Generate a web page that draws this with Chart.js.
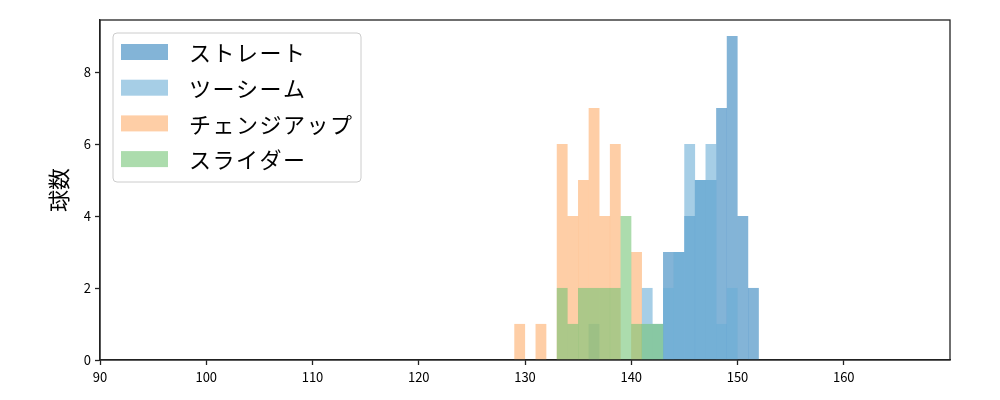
<!DOCTYPE html>
<html>
<head>
<meta charset="utf-8">
<script src="https://cdn.jsdelivr.net/npm/chart.js@4/dist/chart.umd.min.js"></script>
<style>
  body { margin: 0; background: #fff; }
</style>
</head>
<body>
<canvas id="grafico" width="1000" height="400"></canvas>
<script>
// 球速ごとの球数 (1km/h刻み)
const ストレート速度 = [143, 144, 145, 146, 147, 148, 149, 150, 151];
const ストレート球数 = [3, 3, 4, 5, 5, 7, 9, 4, 2];
const ツーシーム速度 = [136, 141, 142, 143, 144, 145, 146, 147, 148, 149];
const ツーシーム球数 = [1, 2, 1, 2, 3, 6, 5, 6, 1, 2];
const チェンジアップ速度 = [129, 131, 133, 134, 135, 136, 137, 138, 140];
const チェンジアップ球数 = [1, 1, 6, 4, 5, 7, 4, 6, 3];
const スライダー速度 = [133, 134, 135, 136, 137, 138, 139, 140, 141, 142];
const スライダー球数 = [2, 1, 2, 2, 2, 2, 4, 1, 1, 1];

const xTicks = [90, 100, 110, 120, 130, 140, 150, 160];
const yTicks = [0, 2, 4, 6, 8];
const fuente = "'Noto Sans CJK JP', 'DejaVu Sans', sans-serif";

function barras(velocidades, cuentas) {
    return velocidades.map((v, i) => ({ x: v + 0.5, y: cuentas[i] }));
}

// Marco del gráfico (las cuatro líneas)
const marco = {
    id: 'marco',
    afterDraw(chart) {
        const { ctx, chartArea: a } = chart;
        ctx.save();
        ctx.strokeStyle = '#222';
        ctx.lineWidth = 1.3;
        ctx.strokeRect(a.left, a.top, a.right - a.left, a.bottom - a.top);
        ctx.restore();
    }
};

// Leyenda dentro del área, arriba a la izquierda
const leyenda = {
    id: 'leyenda',
    afterDraw(chart) {
        const { ctx, chartArea: a } = chart;
        const x0 = a.left + 13, y0 = a.top + 13, w = 248, h = 149;
        ctx.save();
        ctx.beginPath();
        ctx.roundRect(x0, y0, w, h, 4);
        ctx.fillStyle = 'rgba(255,255,255,0.8)';
        ctx.fill();
        ctx.strokeStyle = '#cccccc';
        ctx.lineWidth = 1;
        ctx.stroke();
        ctx.font = '22px ' + fuente;
        ctx.letterSpacing = '1.5px';
        ctx.textBaseline = 'middle';
        chart.data.datasets.forEach((ds, i) => {
            const cy = y0 + 19 + i * 35.7;
            ctx.fillStyle = ds.backgroundColor;
            ctx.fillRect(x0 + 8, cy - 8, 47, 16);
            ctx.fillStyle = '#000';
            ctx.fillText(ds.label, x0 + 76, cy + 1);
        });
        ctx.restore();
    }
};

const ctx = document.getElementById('grafico').getContext('2d');
new Chart(ctx, {
    type: 'bar',
    data: {
        datasets: [
            { label: 'ストレート', data: barras(ストレート速度, ストレート球数), backgroundColor: 'rgba(49,130,189,0.6)', order: 4 },
            { label: 'ツーシーム', data: barras(ツーシーム速度, ツーシーム球数), backgroundColor: 'rgba(107,174,214,0.6)', order: 3 },
            { label: 'チェンジアップ', data: barras(チェンジアップ速度, チェンジアップ球数), backgroundColor: 'rgba(253,174,107,0.6)', order: 2 },
            { label: 'スライダー', data: barras(スライダー速度, スライダー球数), backgroundColor: 'rgba(116,196,118,0.6)', order: 1 }
        ]
    },
    options: {
        responsive: false,
        animation: false,
        devicePixelRatio: 1,
        layout: { padding: { left: 0, right: 50, top: 20, bottom: 0 } },
        datasets: {
            bar: { grouped: false, barPercentage: 1, categoryPercentage: 1, borderWidth: 0, inflateAmount: 0.1 }
        },
        plugins: {
            legend: { display: false },
            tooltip: { enabled: false }
        },
        scales: {
            x: {
                type: 'linear',
                min: 90,
                max: 170,
                offset: false,
                afterBuildTicks: s => { s.ticks = xTicks.map(v => ({ value: v })); },
                afterFit: s => { s.height = 40; },
                grid: { offset: false, drawOnChartArea: false, drawTicks: true, tickLength: 5, color: '#222', tickWidth: 1.3 },
                border: { display: true, color: '#222', width: 1.3 },
                ticks: { color: '#000', font: { family: fuente, size: 13 }, padding: 4, maxRotation: 0 }
            },
            y: {
                type: 'linear',
                min: 0,
                max: 9.45,
                afterBuildTicks: s => { s.ticks = yTicks.map(v => ({ value: v })); },
                afterFit: s => { s.width = 100; },
                grid: { drawOnChartArea: false, drawTicks: true, tickLength: 5, color: '#222', tickWidth: 1.3 },
                border: { display: true, color: '#222', width: 1.3 },
                ticks: { color: '#000', font: { family: fuente, size: 13 }, padding: 4 },
                title: { display: true, text: '球数', color: '#000', font: { family: fuente, size: 22 }, padding: { top: 45, bottom: 0 } }
            }
        }
    },
    plugins: [marco, leyenda]
});
</script>
</body>
</html>
